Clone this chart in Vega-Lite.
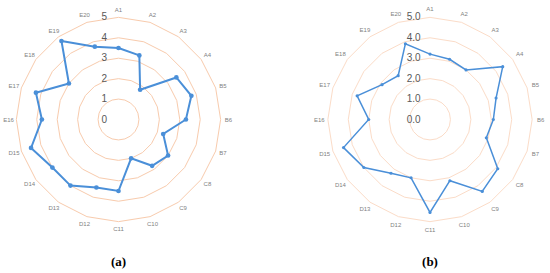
{
  "$schema": "https://vega.github.io/schema/vega-lite/v6.json",
  "padding": {"left": 0, "top": 1, "right": 0, "bottom": 0},
  "background": "white",
  "spacing": 74.5,
  "config": {"view": {"stroke": null}},
  "datasets": {
    "a": [
      {"axis": "A1", "value": 3.5}, {"axis": "A2", "value": 3.3}, {"axis": "A3", "value": 1.8},
      {"axis": "A4", "value": 3.5}, {"axis": "B5", "value": 3.75}, {"axis": "B6", "value": 3.3},
      {"axis": "B7", "value": 2.3}, {"axis": "C8", "value": 3.0}, {"axis": "C9", "value": 2.8},
      {"axis": "C10", "value": 2.0}, {"axis": "C11", "value": 3.5}, {"axis": "D12", "value": 3.5},
      {"axis": "D13", "value": 4.0}, {"axis": "D14", "value": 4.0}, {"axis": "D15", "value": 4.5},
      {"axis": "E16", "value": 3.75}, {"axis": "E17", "value": 4.25}, {"axis": "E18", "value": 3.0},
      {"axis": "E19", "value": 4.75}, {"axis": "E20", "value": 3.75}
    ],
    "b": [
      {"axis": "A1", "value": 3.2}, {"axis": "A2", "value": 3.1}, {"axis": "A3", "value": 3.0},
      {"axis": "A4", "value": 4.4}, {"axis": "B5", "value": 3.4}, {"axis": "B6", "value": 3.1},
      {"axis": "B7", "value": 2.9}, {"axis": "C8", "value": 4.1}, {"axis": "C9", "value": 4.35},
      {"axis": "C10", "value": 3.15}, {"axis": "C11", "value": 4.55}, {"axis": "D12", "value": 3.0},
      {"axis": "D13", "value": 3.25}, {"axis": "D14", "value": 4.0}, {"axis": "D15", "value": 4.45},
      {"axis": "E16", "value": 3.0}, {"axis": "E17", "value": 3.75}, {"axis": "E18", "value": 2.9},
      {"axis": "E19", "value": 2.65}, {"axis": "E20", "value": 3.9}
    ],
    "levels": [{"level": 1}, {"level": 2}, {"level": 3}, {"level": 4}, {"level": 5}],
    "ticksA": [
      {"level": 0, "label": "0"}, {"level": 1, "label": "1"}, {"level": 2, "label": "2"},
      {"level": 3, "label": "3"}, {"level": 4, "label": "4"}, {"level": 5, "label": "5"}
    ],
    "ticksB": [
      {"level": 0, "label": "0.0"}, {"level": 1, "label": "1.0"}, {"level": 2, "label": "2.0"},
      {"level": 3, "label": "3.0"}, {"level": 4, "label": "4.0"}, {"level": 5, "label": "5.0"}
    ]
  },
  "hconcat": [
    {
      "width": 237,
      "height": 237,
      "title": {"text": "(a)", "orient": "bottom", "font": "Liberation Serif", "fontSize": 13, "fontWeight": "bold", "color": "black", "offset": 18, "anchor": "middle"},
      "layer": [
        {
          "data": {"name": "levels"},
          "transform": [{"calculate": "0", "as": "cx"}],
          "mark": {"type": "point", "shape": "M0,-1L0.309,-0.951L0.588,-0.809L0.809,-0.588L0.951,-0.309L1,0L0.951,0.309L0.809,0.588L0.588,0.809L0.309,0.951L0,1L-0.309,0.951L-0.588,0.809L-0.809,0.588L-0.951,0.309L-1,0L-0.951,-0.309L-0.809,-0.588L-0.588,-0.809L-0.309,-0.951Z", "filled": false, "stroke": "#F8CBAD", "strokeWidth": 1, "opacity": 1},
          "encoding": {
            "x": {"field": "cx", "type": "quantitative", "scale": {"domain": [-5.8, 5.8]}, "axis": null},
            "y": {"field": "cx", "type": "quantitative", "scale": {"domain": [-5.8, 5.8]}, "axis": null},
            "size": {"field": "level", "type": "quantitative", "scale": {"type": "pow", "exponent": 2, "domain": [0, 5.8], "range": [0, 56169]}, "legend": null}
          }
        },
        {
          "data": {"name": "ticksA"},
          "transform": [{"calculate": "-0.7", "as": "tx"}],
          "mark": {"type": "text", "font": "Liberation Sans", "fontSize": 10, "color": "#595959", "align": "center", "baseline": "middle"},
          "encoding": {
            "x": {"field": "tx", "type": "quantitative", "scale": {"domain": [-5.8, 5.8]}, "axis": null},
            "y": {"field": "level", "type": "quantitative", "scale": {"domain": [-5.8, 5.8]}, "axis": null},
            "text": {"field": "label"}
          }
        },
        {
          "data": {"name": "a"},
          "transform": [
            {"window": [{"op": "row_number", "as": "i"}]},
            {"calculate": "5.38*sin((datum.i-1)*PI/10)", "as": "lx"},
            {"calculate": "5.38*cos((datum.i-1)*PI/10)", "as": "ly"}
          ],
          "mark": {"type": "text", "font": "Liberation Sans", "fontSize": 6, "color": "#7f7f7f", "align": "center", "baseline": "middle"},
          "encoding": {
            "x": {"field": "lx", "type": "quantitative", "scale": {"domain": [-5.8, 5.8]}, "axis": null},
            "y": {"field": "ly", "type": "quantitative", "scale": {"domain": [-5.8, 5.8]}, "axis": null},
            "text": {"field": "axis"}
          }
        },
        {
          "data": {"name": "a"},
          "transform": [
            {"window": [{"op": "row_number", "as": "i"}]},
            {"calculate": "datum.value*sin((datum.i-1)*PI/10)", "as": "x"},
            {"calculate": "datum.value*cos((datum.i-1)*PI/10)", "as": "y"}
          ],
          "mark": {"type": "line", "interpolate": "linear-closed", "color": "#4A8FD8", "strokeWidth": 2, "point": {"filled": true, "size": 22, "color": "#4A8FD8"}},
          "encoding": {
            "x": {"field": "x", "type": "quantitative", "scale": {"domain": [-5.8, 5.8]}, "axis": null},
            "y": {"field": "y", "type": "quantitative", "scale": {"domain": [-5.8, 5.8]}, "axis": null},
            "order": {"field": "i", "type": "quantitative"}
          }
        }
      ]
    },
    {
      "width": 237,
      "height": 237,
      "title": {"text": "(b)", "orient": "bottom", "font": "Liberation Serif", "fontSize": 13, "fontWeight": "bold", "color": "black", "offset": 18, "anchor": "middle"},
      "layer": [
        {
          "data": {"name": "levels"},
          "transform": [{"calculate": "0", "as": "cx"}],
          "mark": {"type": "point", "shape": "M0,-1L0.309,-0.951L0.588,-0.809L0.809,-0.588L0.951,-0.309L1,0L0.951,0.309L0.809,0.588L0.588,0.809L0.309,0.951L0,1L-0.309,0.951L-0.588,0.809L-0.809,0.588L-0.951,0.309L-1,0L-0.951,-0.309L-0.809,-0.588L-0.588,-0.809L-0.309,-0.951Z", "filled": false, "stroke": "#FBDCC8", "strokeWidth": 1, "opacity": 1},
          "encoding": {
            "x": {"field": "cx", "type": "quantitative", "scale": {"domain": [-5.8, 5.8]}, "axis": null},
            "y": {"field": "cx", "type": "quantitative", "scale": {"domain": [-5.8, 5.8]}, "axis": null},
            "size": {"field": "level", "type": "quantitative", "scale": {"type": "pow", "exponent": 2, "domain": [0, 5.8], "range": [0, 56169]}, "legend": null}
          }
        },
        {
          "data": {"name": "ticksB"},
          "transform": [{"calculate": "-0.8", "as": "tx"}],
          "mark": {"type": "text", "font": "Liberation Sans", "fontSize": 10, "color": "#595959", "align": "center", "baseline": "middle"},
          "encoding": {
            "x": {"field": "tx", "type": "quantitative", "scale": {"domain": [-5.8, 5.8]}, "axis": null},
            "y": {"field": "level", "type": "quantitative", "scale": {"domain": [-5.8, 5.8]}, "axis": null},
            "text": {"field": "label"}
          }
        },
        {
          "data": {"name": "b"},
          "transform": [
            {"window": [{"op": "row_number", "as": "i"}]},
            {"calculate": "5.42*sin((datum.i-1)*PI/10)", "as": "lx"},
            {"calculate": "5.42*cos((datum.i-1)*PI/10)", "as": "ly"}
          ],
          "mark": {"type": "text", "font": "Liberation Sans", "fontSize": 6, "color": "#7f7f7f", "align": "center", "baseline": "middle"},
          "encoding": {
            "x": {"field": "lx", "type": "quantitative", "scale": {"domain": [-5.8, 5.8]}, "axis": null},
            "y": {"field": "ly", "type": "quantitative", "scale": {"domain": [-5.8, 5.8]}, "axis": null},
            "text": {"field": "axis"}
          }
        },
        {
          "data": {"name": "b"},
          "transform": [
            {"window": [{"op": "row_number", "as": "i"}]},
            {"calculate": "datum.value*sin((datum.i-1)*PI/10)", "as": "x"},
            {"calculate": "datum.value*cos((datum.i-1)*PI/10)", "as": "y"}
          ],
          "mark": {"type": "line", "interpolate": "linear-closed", "color": "#4A8FD8", "strokeWidth": 1.5, "point": {"filled": true, "size": 10, "color": "#4A8FD8"}},
          "encoding": {
            "x": {"field": "x", "type": "quantitative", "scale": {"domain": [-5.8, 5.8]}, "axis": null},
            "y": {"field": "y", "type": "quantitative", "scale": {"domain": [-5.8, 5.8]}, "axis": null},
            "order": {"field": "i", "type": "quantitative"}
          }
        }
      ]
    }
  ]
}
